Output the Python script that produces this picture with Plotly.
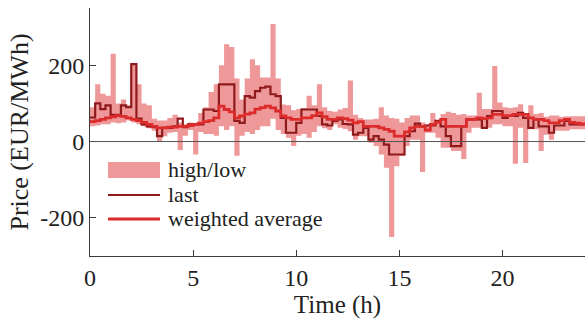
import plotly.graph_objects as go

# 15-minute intervals over one day
hours = [k / 4 for k in range(96)]

high = [90, 150, 125, 120, 230, 100, 110, 95, 205, 150, 100, 95,
        60, 55, 55, 62, 70, 50, 45, 50, 48, 75, 90, 130,
        150, 200, 255, 248, 165, 110, 165, 216, 200, 168, 168, 308,
        165, 97, 95, 82, 85, 88, 120, 95, 150, 90, 80, 78,
        84, 88, 160, 70, 62, 58, 58, 60, 90, 68, 62, 60,
        50, 62, 68, 68, 50, 45, 75, 55, 72, 78, 75, 70,
        72, 68, 68, 128, 85, 85, 198, 102, 90, 88, 90, 98,
        68, 95, 72, 75, 65, 68, 68, 65, 66, 66, 66, 66]

low = [40, 42, 45, 45, 50, 48, 50, 55, 50, 45, 40, 35,
       28, 0, 14, 23, 25, -22, 15, 30, -34, 25, 20, 20,
       15, 40, 30, 40, -37, 15, 25, 20, 30, 40, 40, 60,
       30, 20, 10, -12, 15, 20, 10, 25, 40, 35, 30, 45,
       36, 33, 27, 5, 14, 14, -3, -12, -34, -69, -250, -65,
       -38, -12, 5, 5, -80, 23, 23, 10, -16, -16, -25, -25,
       -46, 23, 36, 36, 36, 36, 45, 45, 40, 40, -58, 36,
       -56, 32, 32, -25, 18, 5, 28, 28, 28, 32, 32, 32]

last = [63, 100, 85, 95, 70, 70, 95, 90, 203, 60, 45, 40,
        38, 14, 36, 36, 40, 60, 38, 45, 45, 45, 84, 84,
        80, 150, 150, 150, 54, 49, 119, 115, 132, 141, 144, 124,
        119, 62, 23, 23, 49, 84, 84, 84, 67, 45, 42, 54,
        58, 46, 45, 18, 23, 36, 5, 14, 5, -8, -34, -34,
        -34, 14, 27, 47, 40, 42, 42, 54, 40, 14, -12, -12,
        40, 58, 58, 58, 36, 67, 80, 80, 62, 67, 67, 75,
        62, 36, 58, 40, 40, 23, 42, 42, 54, 45, 45, 45]

wavg = [52, 55, 58, 62, 65, 68, 66, 62, 58, 55, 50, 45,
        40, 36, 36, 38, 38, 40, 40, 42, 45, 48, 52, 55,
        62, 93, 84, 78, 62, 67, 72, 75, 85, 89, 93, 88,
        80, 67, 62, 58, 58, 62, 62, 68, 75, 65, 58, 58,
        62, 60, 56, 49, 52, 40, 40, 40, 36, 32, 27, 14,
        14, 25, 36, 40, 40, 30, 45, 50, 58, 40, 40, 40,
        40, 58, 58, 62, 60, 62, 71, 71, 68, 68, 71, 71,
        71, 62, 58, 58, 55, 49, 49, 55, 58, 50, 48, 46]

x_ticks = [0, 5, 10, 15, 20]
y_ticks = [-200, 0, 200]
y_ticktext = ["-200", "0", "200"]
series_names = ["high/low", "last", "weighted average"]

# step edges: repeat last value at 24 h
x_edges = hours + [24]
def ext(a):
    return a + [a[-1]]

FONT = "Liberation Serif"
PINK = "#EF9899"
DARK = "#8E1A1C"
RED = "#DC2B2B"
TXT = "#222222"
AX = "#3a3a3a"
W_LAST = 2.2
W_AVG = 2.8

fig = go.Figure()
fig.add_trace(go.Scatter(x=x_edges, y=ext(low), mode="lines", line=dict(width=0, shape="hv"),
                         showlegend=False, hoverinfo="skip"))
fig.add_trace(go.Scatter(x=x_edges, y=ext(high), mode="lines", line=dict(width=0, shape="hv"),
                         fill="tonexty", fillcolor=PINK, name=series_names[0], showlegend=False))
fig.add_trace(go.Scatter(x=x_edges, y=ext(last), mode="lines", line=dict(width=W_LAST, color=DARK, shape="hv"),
                         name=series_names[1], showlegend=False))
fig.add_trace(go.Scatter(x=x_edges, y=ext(wavg), mode="lines", line=dict(width=W_AVG, color=RED, shape="hv"),
                         name=series_names[2], showlegend=False))

axis_common = dict(showline=True, linecolor=AX, linewidth=1, ticks="inside", ticklen=6,
                   tickcolor=AX, showgrid=False, tickfont=dict(size=24, family=FONT, color=TXT),
                   mirror=False, automargin=False, zeroline=False)

# plot-area geometry (pixels) for the hand-drawn legend
L, R, T, B = 90, 585, 8, 256
def px(xp):
    return (xp - L) / (R - L)
def py(yp):
    return (B - yp) / (B - T)

shapes = [
    dict(type="line", xref="paper", yref="y", x0=0, x1=1, y0=0, y1=0,
         line=dict(color="#555555", width=1), layer="above"),
    dict(type="rect", xref="paper", yref="paper", x0=px(108), x1=px(160), y0=py(178), y1=py(162),
         fillcolor=PINK, line=dict(width=0)),
    dict(type="line", xref="paper", yref="paper", x0=px(108), x1=px(160), y0=py(195), y1=py(195),
         line=dict(color=DARK, width=W_LAST)),
    dict(type="line", xref="paper", yref="paper", x0=px(108), x1=px(160), y0=py(219), y1=py(219),
         line=dict(color=RED, width=W_AVG)),
]
annotations = [
    dict(xref="paper", yref="paper", x=px(166), y=py(yc), text=t, showarrow=False,
         xanchor="left", yanchor="middle", font=dict(size=22, family=FONT, color=TXT))
    for t, yc in zip(series_names, [169, 194, 218])
]

fig.update_layout(
    width=585, height=325,
    margin=dict(l=L, r=585 - R, t=T, b=325 - B, autoexpand=False),
    paper_bgcolor="white", plot_bgcolor="white",
    font=dict(family=FONT, color=TXT),
    xaxis=dict(range=[0, 24], tickvals=x_ticks,
               title=dict(text="Time (h)", font=dict(size=25, family=FONT, color=TXT), standoff=4),
               **axis_common),
    yaxis=dict(range=[-300, 350], tickvals=y_ticks, ticktext=y_ticktext,
               title=dict(text="Price (EUR/MWh)", font=dict(size=26, family=FONT, color=TXT), standoff=4),
               **axis_common),
    shapes=shapes,
    annotations=annotations,
    showlegend=False,
)

fig.write_html("out.html", config={"displayModeBar": False},
               post_script="document.body.style.margin='0';")
